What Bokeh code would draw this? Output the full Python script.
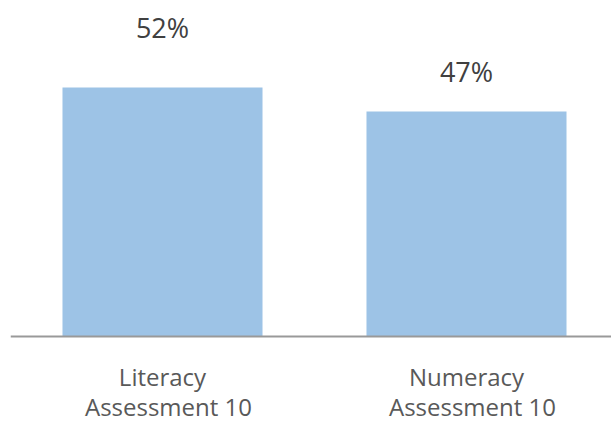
from bokeh.plotting import figure
from bokeh.models import ColumnDataSource, Range1d, Span
from bokeh.core.properties import value
from bokeh.embed import file_html
from bokeh.resources import INLINE

# ---- data ----
categories = ["Literacy\nAssessment 10", "Numeracy\nAssessment 10"]
percent_values = [52, 47]
value_labels = ["52%", "47%"]

# ---- styling ----
label_offsets = [-60, -40]  # screen px offset of the value labels above the bar tops
bar_color = "#9DC3E6"
font = "Open Sans"

x_pos = list(range(len(categories)))
line1 = [c.split("\n")[0] for c in categories]
line2 = [c.split("\n")[1] for c in categories]
src = ColumnDataSource(dict(x=x_pos, top=percent_values, l1=line1, l2=line2,
                            lab=value_labels, off=label_offsets,
                            zero=[0] * len(categories)))

p = figure(width=611, height=422, output_backend="svg", toolbar_location=None,
           x_range=Range1d(-0.5, 1.477), y_range=Range1d(-17.96, 70.17),
           min_border_left=10, min_border_right=0, min_border_top=0, min_border_bottom=0)
p.axis.visible = False
p.grid.visible = False
p.outline_line_color = None
p.background_fill_color = "white"
p.border_fill_color = "white"

p.vbar(x="x", top="top", bottom=0, width=0.658, source=src,
       fill_color=bar_color, line_color=None)

p.add_layout(Span(location=0, dimension="width", line_color="#999999", line_width=2))

p.text(x="x", y="top", text="lab", y_offset="off", source=src,
       text_font=value(font), text_font_size="27px", text_color="#404040",
       text_align="center", text_baseline="middle")

p.text(x="x", y="zero", text="l1", y_offset=40, source=src,
       text_font=value(font), text_font_size="24px", text_color="#595959",
       text_align="center", text_baseline="middle")
p.text(x="x", y="zero", text="l2", y_offset=70, x_offset=6, source=src,
       text_font=value(font), text_font_size="24px", text_color="#595959",
       text_align="center", text_baseline="middle")

open("out.html", "w").write(file_html(p, INLINE))
